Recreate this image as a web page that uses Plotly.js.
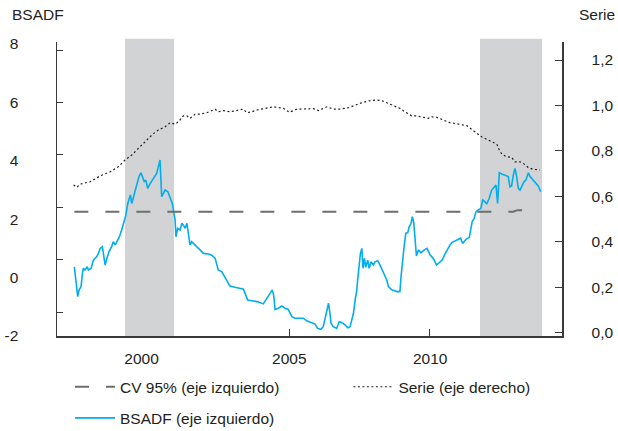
<!DOCTYPE html>
<html>
<head>
<meta charset="utf-8">
<script src="https://cdn.plot.ly/plotly-3.0.1.min.js"></script>
<style>html,body{margin:0;padding:0;background:#fff;}#chart{width:618px;height:431px;}</style>
</head>
<body>
<div id="chart"></div>
<script>
// ---- data ----
var bsadfDates = [1997.32,1997.35,1997.44,1997.49,1997.56,1997.61,1997.64,1997.70,1997.78,1997.82,1997.92,1998.00,1998.12,1998.18,1998.24,1998.32,1998.36,1998.42,1998.48,1998.56,1998.66,1998.71,1998.78,1998.87,1998.93,1999.01,1999.07,1999.16,1999.23,1999.28,1999.32,1999.37,1999.43,1999.49,1999.55,1999.63,1999.70,1999.76,1999.82,1999.87,1999.94,2000.03,2000.11,2000.18,2000.26,2000.32,2000.38,2000.44,2000.50,2000.56,2000.66,2000.74,2000.82,2000.87,2000.92,2000.95,2001.01,2001.10,2001.16,2001.21,2001.28,2001.34,2001.39,2001.45,2001.51,2001.61,2001.69,2001.81,2001.93,2002.11,2002.23,2002.35,2002.41,2002.46,2002.59,2002.70,2002.82,2002.88,2003.06,2003.36,2003.42,2003.51,2003.66,2003.89,2004.07,2004.16,2004.25,2004.35,2004.39,2004.44,2004.49,2004.61,2004.73,2004.85,2004.96,2005.09,2005.20,2005.38,2005.50,2005.62,2005.80,2005.92,2006.01,2006.13,2006.21,2006.28,2006.34,2006.40,2006.45,2006.49,2006.57,2006.69,2006.78,2006.87,2006.99,2007.09,2007.17,2007.23,2007.29,2007.35,2007.41,2007.44,2007.49,2007.54,2007.59,2007.63,2007.68,2007.73,2007.80,2007.85,2007.92,2008.00,2008.06,2008.16,2008.24,2008.32,2008.39,2008.48,2008.54,2008.66,2008.84,2008.95,2008.99,2009.04,2009.10,2009.16,2009.23,2009.28,2009.35,2009.39,2009.44,2009.49,2009.54,2009.61,2009.70,2009.82,2009.92,2010.03,2010.14,2010.26,2010.38,2010.46,2010.54,2010.66,2010.74,2010.80,2010.95,2011.12,2011.19,2011.31,2011.43,2011.48,2011.53,2011.60,2011.67,2011.75,2011.84,2011.91,2011.99,2012.05,2012.14,2012.23,2012.31,2012.38,2012.44,2012.50,2012.59,2012.70,2012.82,2012.88,2012.94,2013.00,2013.06,2013.12,2013.18,2013.24,2013.30,2013.38,2013.45,2013.54,2013.60,2013.69,2013.81,2013.89,2013.98];
var bsadfValues = [0.37,0.16,-0.65,-0.42,-0.31,0.15,0.32,0.26,0.37,0.26,0.32,0.60,0.72,0.83,1.00,1.06,0.83,0.43,0.66,0.89,1.08,1.23,1.12,1.29,1.40,1.63,1.86,2.14,2.54,2.72,2.83,2.54,2.77,3.00,3.23,3.46,3.59,3.46,3.28,3.34,3.06,3.23,3.34,3.46,3.57,3.80,4.03,2.77,2.89,3.00,2.94,2.77,2.54,2.26,1.97,1.40,1.69,1.63,1.86,1.80,1.69,1.86,1.52,1.12,1.23,1.15,1.06,0.95,0.83,0.81,0.77,0.66,0.37,0.26,0.20,0.03,-0.20,-0.29,-0.33,-0.40,-0.54,-0.77,-0.79,-0.83,-0.90,-0.77,-0.60,-0.45,-0.42,-0.60,-1.09,-1.05,-0.97,-1.05,-1.09,-1.34,-1.39,-1.39,-1.39,-1.48,-1.54,-1.59,-1.74,-1.77,-1.68,-1.34,-1.17,-0.88,-1.22,-1.57,-1.68,-1.74,-1.51,-1.54,-1.62,-1.72,-1.68,-1.45,-1.22,-0.77,-0.42,-0.08,0.32,0.83,1.00,0.32,0.66,0.35,0.60,0.32,0.54,0.43,0.54,0.58,0.43,0.26,0.15,-0.08,-0.31,-0.42,-0.48,-0.48,0.03,0.60,1.06,1.52,1.54,1.74,1.86,2.09,1.91,1.35,0.74,0.95,0.85,0.95,1.00,0.77,0.66,0.43,0.54,0.60,0.77,1.00,1.12,1.20,1.26,1.35,1.17,1.31,1.38,1.63,1.91,2.03,2.26,2.32,2.37,2.66,2.60,2.52,2.72,3.00,3.11,3.17,2.54,3.59,3.55,3.51,3.46,3.11,3.14,3.51,3.74,3.46,3.06,3.00,3.14,3.28,3.34,3.59,3.46,3.37,3.25,3.14,2.94];

var serieDates = [1997.29,1997.41,1997.53,1997.88,1998.24,1998.60,1998.89,1999.13,1999.37,1999.61,1999.85,2000.09,2000.32,2000.56,2000.74,2000.92,2001.04,2001.21,2001.34,2001.45,2001.63,2001.81,2002.05,2002.35,2002.46,2002.64,2002.88,2003.12,2003.36,2003.48,2003.66,2003.84,2004.19,2004.43,2004.79,2005.00,2005.26,2005.56,2005.86,2006.04,2006.34,2006.57,2006.81,2007.11,2007.35,2007.59,2007.88,2008.12,2008.30,2008.48,2008.71,2008.95,2009.13,2009.37,2009.55,2009.73,2009.96,2010.09,2010.26,2010.50,2010.74,2011.04,2011.34,2011.51,2011.69,2011.87,2012.05,2012.23,2012.41,2012.50,2012.59,2012.76,2012.94,2013.06,2013.24,2013.36,2013.54,2013.71,2013.95];
var serieValues = [0.650,0.640,0.654,0.664,0.690,0.708,0.730,0.760,0.782,0.811,0.840,0.870,0.892,0.906,0.924,0.918,0.928,0.954,0.954,0.943,0.961,0.962,0.968,0.983,0.972,0.977,0.972,0.977,0.984,0.968,0.972,0.980,0.987,0.994,0.987,0.970,0.983,0.983,0.986,0.977,0.994,0.984,0.984,0.990,1.002,1.012,1.021,1.024,1.021,1.012,0.999,0.987,0.972,0.954,0.954,0.948,0.943,0.950,0.948,0.936,0.924,0.918,0.911,0.895,0.877,0.862,0.851,0.840,0.830,0.804,0.786,0.774,0.772,0.752,0.752,0.745,0.726,0.719,0.716];

var cvDates = [1997.32, 2013.00, 2013.15, 2013.49];
var cvValues = [2.26, 2.26, 2.31, 2.31];

var shadeStarts = [1999.13, 2011.81];
var shadeEnds = [2000.88, 2014.03];

var leftTickVals = [-2, 0, 2, 4, 6, 8];
var leftTickText = ['-2', '0', '2', '4', '6', '8'];
var rightTickVals = [0, 0.2, 0.4, 0.6, 0.8, 1.0, 1.2];
var yearTickVals = [2005, 2010];
var yearLabelVals = [1999.72, 2005.0, 2010.03];
var yearLabelText = ['2000', '2005', '2010'];

// ---- chart ----
var FONT = {family: 'Liberation Sans, Arial, sans-serif', size: 15.5, color: '#231f20'};
var AXC = '#3a3a3a';

var traces = [
  {x: cvDates, y: cvValues, xaxis: 'x2', yaxis: 'y', mode: 'lines', name: 'CV 95% (eje izquierdo)',
   line: {color: '#6d6e70', width: 2, dash: '14px,17px'}, legend: 'legend'},
  {x: serieDates, y: serieValues, xaxis: 'x', yaxis: 'y2', mode: 'lines', name: 'Serie (eje derecho)',
   line: {color: '#231f20', width: 1.2, dash: '2px,2.5px'}, legend: 'legend2'},
  {x: bsadfDates, y: bsadfValues, xaxis: 'x', yaxis: 'y', mode: 'lines', name: 'BSADF (eje izquierdo)',
   line: {color: '#00aeef', width: 1.6}, legend: 'legend3'},
  {x: [], y: [], xaxis: 'x', yaxis: 'y3', mode: 'lines', showlegend: false, hoverinfo: 'skip'}
];

var shapes = shadeStarts.map(function (s, i) {
  return {type: 'rect', xref: 'x', yref: 'paper', x0: s, x1: shadeEnds[i], y0: 0, y1: 1.011,
          fillcolor: '#d1d3d4', line: {width: 0}, layer: 'below'};
});

function legendAt(x, y) {
  return {orientation: 'h', x: x, xanchor: 'left', y: y, yanchor: 'middle', font: FONT,
          itemwidth: 40, bgcolor: 'rgba(0,0,0,0)', borderwidth: 0};
}

var layout = {
  width: 618, height: 431, autosize: false,
  margin: {l: 57, r: 56, t: 42, b: 95, pad: 0, autoexpand: false},
  paper_bgcolor: '#ffffff', plot_bgcolor: 'rgba(0,0,0,0)',
  separators: ',.',
  font: FONT,
  showlegend: true,
  hovermode: false,
  xaxis: {range: [1996.70, 2014.74], showgrid: false, zeroline: false, showline: true, linecolor: AXC, linewidth: 1.5,
          tickmode: 'array', tickvals: yearTickVals, ticks: 'inside', ticklen: 7, tickcolor: AXC, tickwidth: 1,
          showticklabels: false, fixedrange: true},
  xaxis2: {range: [1996.70, 2014.74], overlaying: 'x', anchor: 'y', side: 'bottom', showgrid: false, zeroline: false,
           showline: false, tickmode: 'array', tickvals: yearLabelVals, ticktext: yearLabelText, ticks: '',
           ticklabelstandoff: 11, tickfont: FONT, fixedrange: true},
  yaxis: {range: [-2, 8.07], showgrid: false, zeroline: false, showline: true, linecolor: AXC, linewidth: 1.5,
          tickmode: 'array', tickvals: leftTickVals, ticktext: leftTickText, ticks: '', ticklabelstandoff: 34,
          tickfont: FONT, fixedrange: true},
  yaxis3: {range: [-2.904, 8.305], overlaying: 'y', side: 'left', anchor: 'x', showgrid: false, zeroline: false,
           showline: false, tickmode: 'array', tickvals: leftTickVals, ticks: 'inside', ticklen: 6, tickcolor: AXC,
           tickwidth: 1, showticklabels: false, fixedrange: true},
  yaxis2: {range: [-0.0145, 1.2792], overlaying: 'y', side: 'right', anchor: 'x', showgrid: false, zeroline: false,
           showline: true, linecolor: AXC, linewidth: 1.5, tickmode: 'array', tickvals: rightTickVals, tickformat: '.1f',
           ticks: 'inside', ticklen: 7, tickcolor: AXC, tickwidth: 1, ticklabelstandoff: 25, tickfont: FONT, fixedrange: true},
  legend: legendAt(0.0257, -0.174),
  legend2: legendAt(0.577, -0.174),
  legend3: legendAt(0.0257, -0.28),
  shapes: shapes,
  annotations: [
    {xref: 'paper', yref: 'paper', x: -0.093, y: 1.095, xanchor: 'left', yanchor: 'middle', text: 'BSADF',
     showarrow: false, font: FONT},
    {xref: 'paper', yref: 'paper', x: 1.109, y: 1.095, xanchor: 'right', yanchor: 'middle', text: 'Serie',
     showarrow: false, font: FONT}
  ]
};

Plotly.newPlot('chart', traces, layout, {displayModeBar: false, staticPlot: true});
</script>
</body>
</html>
